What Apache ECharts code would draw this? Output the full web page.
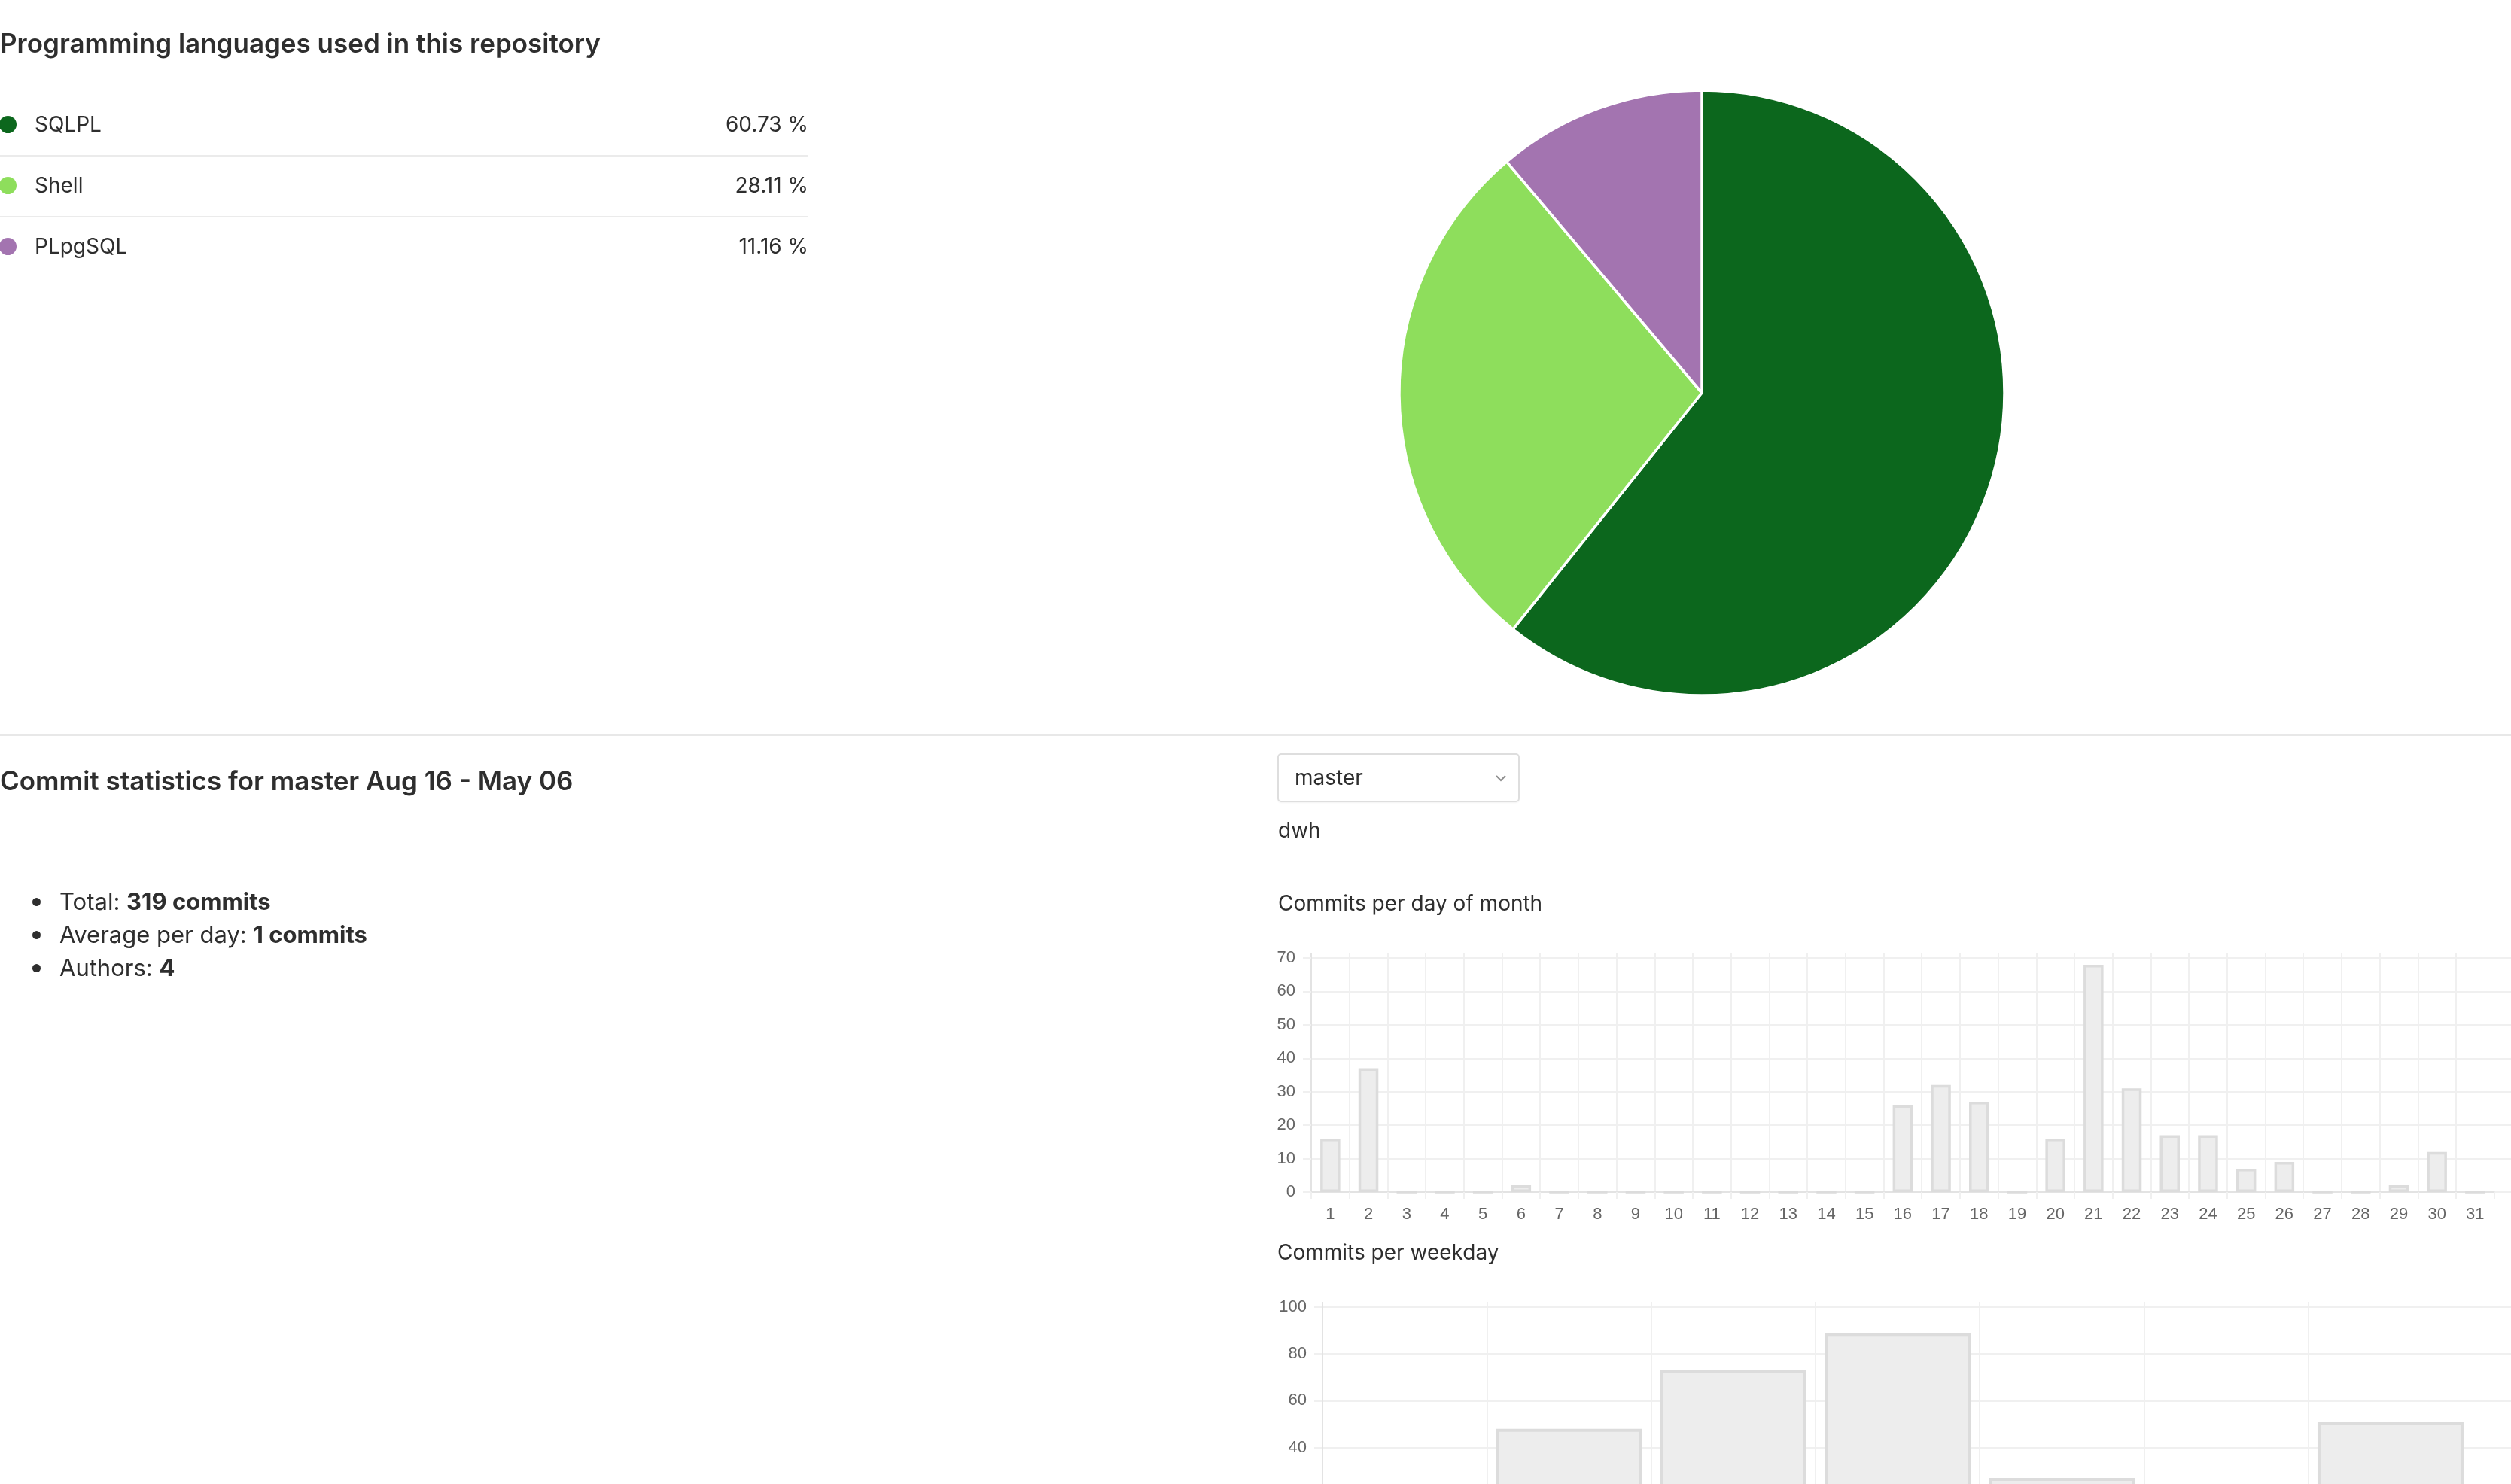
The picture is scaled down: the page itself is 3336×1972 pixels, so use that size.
<!DOCTYPE html>
<html>
<head>
<meta charset="utf-8">
<script src="https://cdn.jsdelivr.net/npm/echarts@6/dist/echarts.min.js"></script>
<style>
html,body{margin:0;padding:0;width:3336px;height:1972px;overflow:hidden;background:#fff;}
body{position:relative;font-family:Inter,"Noto Sans",sans-serif;color:#2e2e2e;}
#chart{position:absolute;left:0;top:0;width:3336px;height:2120px;}
.t{position:absolute;white-space:nowrap;}
.h{font-weight:600;}
#legend{position:absolute;left:0;top:127px;width:1074px;}
.row{position:relative;height:79px;border-bottom:2px solid #ebebeb;font-size:28px;}
.row:last-child{border-bottom:none;}
.row .dot{position:absolute;left:-1px;top:27px;width:23px;height:23px;border-radius:50%;}
.row .nm{position:absolute;left:46px;top:21px;line-height:34px;}
.row .pc{position:absolute;right:0;top:21px;line-height:34px;}
#sep{position:absolute;left:0;top:976px;width:3336px;height:2px;background:#e8e8e8;}
#dd{position:absolute;left:1697px;top:1001px;width:318px;height:61px;border:2px solid #dedede;border-radius:5px;box-shadow:0 1px 2px rgba(0,0,0,0.05);}
#dd span{position:absolute;left:21px;top:13px;font-size:28px;line-height:34px;}
#dd svg{position:absolute;right:16px;top:27px;}
ul#stats{position:absolute;left:0;top:1176px;margin:0;padding:0;list-style:none;font-size:31px;}
ul#stats li{position:relative;height:44px;line-height:44px;padding-left:79px;}
ul#stats li:before{content:"";position:absolute;left:43px;top:17px;width:11px;height:11px;border-radius:50%;background:#2e2e2e;}
b{font-weight:700;}
</style>
</head>
<body>
<div id="chart"></div>
<div class="t h" style="left:0;top:36px;font-size:35px;line-height:42px;">Programming languages used in this repository</div>
<div id="legend"></div>
<div id="sep"></div>
<div class="t h" style="left:0;top:1016px;font-size:35px;line-height:42px;">Commit statistics for master Aug 16 - May 06</div>
<div id="dd"><span>master</span><svg width="14" height="9" viewBox="0 0 14 9"><polyline points="1,1 7,7 13,1" fill="none" stroke="#8f8f8f" stroke-width="2"/></svg></div>
<div class="t" style="left:1698px;top:1086px;font-size:28px;line-height:34px;">dwh</div>
<ul id="stats"></ul>
<div class="t" style="left:1698px;top:1183px;font-size:28px;line-height:34px;">Commits per day of month</div>
<div class="t" style="left:1697px;top:1647px;font-size:28px;line-height:34px;">Commits per weekday</div>
<script>
// ---- data ----
const languages = ['SQLPL', 'Shell', 'PLpgSQL'];
const languageShares = [60.73, 28.11, 11.16];
const statLabels = ['Total:', 'Average per day:', 'Authors:'];
const statValues = ['319 commits', '1 commits', '4'];
const dayLabels = ['1','2','3','4','5','6','7','8','9','10','11','12','13','14','15','16','17','18','19','20','21','22','23','24','25','26','27','28','29','30','31'];
const dayCommits = [16,37,0,0,0,2,0,0,0,0,0,0,0,0,0,26,32,27,0,16,68,31,17,17,7,9,0,0,2,12,0];
const dayAxisMax = 70;
const dayAxisStep = 10;
const weekdayLabels = ['Mon','Tue','Wed','Thu','Fri','Sat','Sun'];
const weekdayCommits = [17,48,73,89,27,14,51];
const weekAxisMax = 100;
const weekAxisStep = 20;

// ---- styles ----
const languageColors = ['#0c671d', '#8ede5c', '#a374b0'];
const gridColor = '#f0f0f0';
const axisColor = '#e3e3e3';
const labelColor = '#666666';
const barFill = '#ededed';
const barBorder = '#dcdcdc';
const axisFont = '"Liberation Sans", Arial, sans-serif';

// legend + stats html from data
const lg = document.getElementById('legend');
languages.forEach((name, i) => {
  const r = document.createElement('div');
  r.className = 'row';
  r.innerHTML = '<span class="dot" style="background:' + languageColors[i] + '"></span>' +
    '<span class="nm">' + name + '</span><span class="pc">' + languageShares[i].toFixed(2) + ' %</span>';
  lg.appendChild(r);
});
const st = document.getElementById('stats');
statLabels.forEach((l, i) => {
  const li = document.createElement('li');
  li.innerHTML = l + ' <b>' + statValues[i] + '</b>';
  st.appendChild(li);
});

const chart = echarts.init(document.getElementById('chart'), null, {renderer: 'canvas'});

function gridSet(prefix, left, top, catWidth, nCats, height, max, step, labels, values, barW, bw) {
  const width = catWidth * nCats;
  const grids = [
    {id: prefix + 'main', left: left, top: top, width: width, height: height},
    {id: prefix + 'h', left: left, top: top, right: 0, height: height},
    {id: prefix + 'v', left: left, top: top - 7, width: width, height: height + 7}
  ];
  const vColors = [axisColor];
  for (let i = 0; i < nCats; i++) vColors.push(gridColor);
  return {grids: grids, x: [
    {type: 'category', data: labels, boundaryGap: true,
      axisLine: {show: true, lineStyle: {color: axisColor, width: 2}},
      axisTick: {show: true, interval: 0, length: 9, lineStyle: {color: gridColor, width: 2}},
      axisLabel: {interval: 0, color: labelColor, fontSize: 22, fontFamily: axisFont, margin: 19},
      splitLine: {show: false}},
    {type: 'value', min: 0, max: 1, show: false},
    {type: 'category', data: labels, boundaryGap: true,
      axisLine: {show: false}, axisTick: {show: false}, axisLabel: {show: false},
      splitLine: {show: true, interval: 0, showMaxLine: false, lineStyle: {color: vColors, width: 2}}}
  ], y: [
    {type: 'value', min: 0, max: max, interval: step,
      axisLine: {show: false},
      axisTick: {show: true, length: 11, lineStyle: {color: gridColor, width: 2}},
      axisLabel: {color: labelColor, fontSize: 22, fontFamily: axisFont, margin: 21},
      splitLine: {show: false}},
    {type: 'value', min: 0, max: max, interval: step,
      axisLine: {show: false}, axisTick: {show: false}, axisLabel: {show: false},
      splitLine: {show: true, lineStyle: {color: gridColor, width: 2}}},
    {type: 'value', min: 0, max: 1, show: false}
  ], series: {type: 'bar', data: values, barWidth: barW, silent: true,
      itemStyle: {color: barFill, borderColor: barBorder, borderWidth: bw}}};
}

const d = gridSet('d', 1742, 1273, 50.7, dayLabels.length, 311, dayAxisMax, dayAxisStep, dayLabels, dayCommits, 26.5, 3.5);
const w = gridSet('w', 1757, 1737, 218.3, weekdayLabels.length, 311, weekAxisMax, weekAxisStep, weekdayLabels, weekdayCommits, 194, 4);

const grids = d.grids.concat(w.grids);
const xAxes = [], yAxes = [];
[d, w].forEach((s, k) => {
  s.x.forEach((ax, i) => { xAxes.push(Object.assign({gridIndex: k * 3 + i}, ax)); });
  s.y.forEach((ax, i) => { yAxes.push(Object.assign({gridIndex: k * 3 + i}, ax)); });
});

chart.setOption({
  animation: false,
  grid: grids,
  xAxis: xAxes,
  yAxis: yAxes,
  series: [
    {type: 'pie', center: [2261, 522], radius: 402, startAngle: 90, clockwise: true,
      label: {show: false}, labelLine: {show: false}, silent: true,
      itemStyle: {borderColor: '#ffffff', borderWidth: 3.5},
      data: languages.map((n, i) => ({name: n, value: languageShares[i], itemStyle: {color: languageColors[i]}}))},
    Object.assign({xAxisIndex: 0, yAxisIndex: 0}, d.series),
    Object.assign({xAxisIndex: 3, yAxisIndex: 3}, w.series)
  ]
});
</script>
</body>
</html>
